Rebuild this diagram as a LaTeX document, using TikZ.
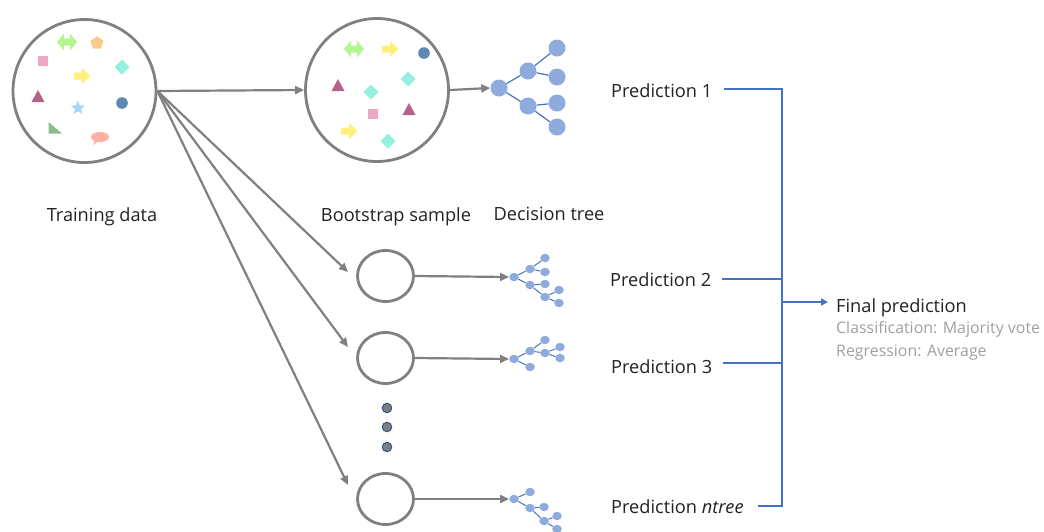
\documentclass[tikz,border=0pt]{standalone}
\usepackage{fontspec}
\setmainfont{Open Sans}
\usetikzlibrary{arrows.meta,shapes.geometric}
\definecolor{lgray}{HTML}{808080}
\definecolor{tblue}{HTML}{8FAADC}
\definecolor{lblue}{HTML}{4472C4}
\definecolor{txt}{HTML}{222222}
\definecolor{gtxt}{HTML}{A0A0A0}
\definecolor{cgreen}{HTML}{B3F58E}
\definecolor{cyellow}{HTML}{FFF07C}
\definecolor{corange}{HTML}{FFC98C}
\definecolor{cpink}{HTML}{EBA8C3}
\definecolor{ccyan}{HTML}{95F0DD}
\definecolor{cmag}{HTML}{B5628A}
\definecolor{cstar}{HTML}{A8D4FF}
\definecolor{cdot}{HTML}{5E88B0}
\definecolor{cgtri}{HTML}{8DBE8A}
\definecolor{csalmon}{HTML}{FFB0A3}
\definecolor{ddot}{HTML}{7F7F7F}
\definecolor{dblue}{HTML}{2F5597}
\tikzset{
  pics/dblarr/.style={code={\fill[cgreen] (-10,0) -- (-3,-8.5) -- (-3,-3.5) -- (3,-3.5) -- (3,-8.5) -- (10,0) -- (3,8.5) -- (3,3.5) -- (-3,3.5) -- (-3,8.5) -- cycle;}},
  pics/rarr/.style={code={\fill[cyellow] (-8,-3.5) -- (0,-3.5) -- (0,-8) -- (8.5,0) -- (0,8) -- (0,3.5) -- (-8,3.5) -- cycle;}},
  pics/pent/.style={code={\fill[corange] (-90:6.8) -- (-18:6.8) -- (54:6.8) -- (126:6.8) -- (198:6.8) -- cycle;}},
  pics/sqr/.style={code={\fill[cpink] (-5,-5) rectangle (5,5);}},
  pics/diam/.style={code={\fill[ccyan] (0,-7.5) -- (7.5,0) -- (0,7.5) -- (-7.5,0) -- cycle;}},
  pics/tri/.style={code={\fill[cmag] (0,-7) -- (6.5,5) -- (-6.5,5) -- cycle;}},
  pics/strr/.style={code={\fill[cstar] (-90:7.5) -- (-54:3.2) -- (-18:7.5) -- (18:3.2) -- (54:7.5) -- (90:3.2) -- (126:7.5) -- (162:3.2) -- (198:7.5) -- (234:3.2) -- cycle;}},
  pics/bdot/.style={code={\fill[cdot] (0,0) circle (5.8);}},
  pics/rtri/.style={code={\fill[cgtri] (-6.5,-6) -- (-6.5,5.5) -- (7,5.5) -- cycle;}},
  pics/bubble/.style={code={\fill[csalmon] (0,0) ellipse (9 and 5); \fill[csalmon] (-5,3) -- (-7,8) -- (-1,4) -- cycle;}},
}
\begin{document}
\begin{tikzpicture}[x=1pt,y=-1pt,
  bigc/.style={circle,draw=lgray,line width=2.8pt,minimum size=143pt,inner sep=0},
  smallc/.style={ellipse,draw=lgray,line width=2.8pt,minimum width=56pt,minimum height=51pt,inner sep=0},
  garrow/.style={draw=lgray,line width=2.2pt,-{Triangle[length=9pt,width=8pt]}},
  tnode/.style={circle,fill=tblue,inner sep=0,minimum size=17pt},
  snode/.style={ellipse,fill=tblue,inner sep=0,minimum width=9.5pt,minimum height=8.5pt},
  tedge/.style={draw=lblue,line width=1.2pt},
  sedge/.style={draw=lblue,line width=1pt},
  lbl/.style={font=\fontsize{18.2}{20}\selectfont,text=txt,inner sep=0},
  glbl/.style={font=\fontsize{15.9}{18}\selectfont,text=gtxt,inner sep=0},
  bline/.style={draw=lblue,line width=1.3pt},
  barrow/.style={draw=lblue,line width=2.4pt,-{Triangle[length=7pt,width=7pt]}},
  vdot/.style={circle,fill=ddot,draw=dblue,line width=1pt,minimum size=9.5pt,inner sep=0},
]
\useasboundingbox (0,0) rectangle (1044,531);

% main circles
\node[bigc] (train) at (84.5,91) {};
\node[bigc] (boot) at (377,90) {};

% shapes in training data
\pic at (67,42) {dblarr};
\pic at (97,43) {pent};
\pic at (43,61) {sqr};
\pic at (122,67) {diam};
\pic at (82,76) {rarr};
\pic at (38,97) {tri};
\pic at (78,108) {strr};
\pic at (122,103) {bdot};
\pic at (55,128) {rtri};
\pic at (100,137) {bubble};

% shapes in bootstrap sample
\pic at (354,49) {dblarr};
\pic at (390,49) {rarr};
\pic at (424,53) {bdot};
\pic at (338,86) {tri};
\pic at (408,79) {diam};
\pic at (371,92) {diam};
\pic at (373,114) {sqr};
\pic at (409,110) {tri};
\pic at (349,131) {rarr};
\pic at (388,141) {diam};

% small bootstrap circles
\node[smallc] (c2) at (385.5,276) {};
\node[smallc] (c3) at (385.5,358) {};
\node[smallc] (c4) at (385.5,499) {};

% vertical dots
\node[vdot] (d1) at (387,408) {};
\node[vdot] (d2) at (387,427) {};
\node[vdot] (d3) at (387,447) {};

% arrow end points
\coordinate (e2) at (348,272);
\coordinate (e3) at (348,347);
\coordinate (e4) at (348,485);
\draw[garrow] (train.east) -- (boot.west);
\draw[garrow] (train.east) -- (e2);
\draw[garrow] (train.east) -- (e3);
\draw[garrow] (train.east) -- (e4);

% big tree
\node[tnode] (r0) at (499,88) {};
\node[tnode] (a1) at (528,71) {};
\node[tnode] (a2) at (528,106) {};
\node[tnode] (l1) at (557,48) {};
\node[tnode] (l2) at (557,77) {};
\node[tnode] (l3) at (557,103) {};
\node[tnode] (l4) at (557,127) {};
\draw[tedge] (r0) -- (a1); \draw[tedge] (r0) -- (a2);
\draw[tedge] (a1) -- (l1); \draw[tedge] (a1) -- (l2);
\draw[tedge] (a2) -- (l3); \draw[tedge] (a2) -- (l4);
\draw[garrow] (boot.east) -- (r0.west);

% tree 2
\node[snode] (s2r) at (514,277) {};
\node[snode] (s2a) at (530,269) {};
\node[snode] (s2b) at (545,258) {};
\node[snode] (s2c) at (545,272) {};
\node[snode] (s2d) at (530,285) {};
\node[snode] (s2e) at (545,284) {};
\node[snode] (s2f) at (545,297) {};
\node[snode] (s2g) at (559,290) {};
\node[snode] (s2h) at (559,303) {};
\draw[sedge] (s2r) -- (s2a); \draw[sedge] (s2r) -- (s2d);
\draw[sedge] (s2a) -- (s2b); \draw[sedge] (s2a) -- (s2c);
\draw[sedge] (s2d) -- (s2e); \draw[sedge] (s2d) -- (s2f);
\draw[sedge] (s2f) -- (s2g); \draw[sedge] (s2f) -- (s2h);
\draw[garrow] (c2.east) -- (s2r.west);

% tree 3
\node[snode] (s3r) at (514,359) {};
\node[snode] (s3a) at (530,351) {};
\node[snode] (s3b) at (545,340) {};
\node[snode] (s3c) at (545,353) {};
\node[snode] (s3d) at (560,347) {};
\node[snode] (s3e) at (560,358) {};
\node[snode] (s3f) at (530,367) {};
\draw[sedge] (s3r) -- (s3a); \draw[sedge] (s3r) -- (s3f);
\draw[sedge] (s3a) -- (s3b); \draw[sedge] (s3a) -- (s3c);
\draw[sedge] (s3c) -- (s3d); \draw[sedge] (s3c) -- (s3e);
\draw[garrow] (c3.east) -- (s3r.west);

% tree 4
\node[snode] (s4r) at (514,499) {};
\node[snode] (s4a) at (530,492) {};
\node[snode] (s4b) at (530,508) {};
\node[snode] (s4c) at (544,507) {};
\node[snode] (s4d) at (544,521) {};
\node[snode] (s4e) at (557,516) {};
\node[snode] (s4f) at (557,529) {};
\draw[sedge] (s4r) -- (s4a); \draw[sedge] (s4r) -- (s4b);
\draw[sedge] (s4b) -- (s4c); \draw[sedge] (s4b) -- (s4d);
\draw[sedge] (s4d) -- (s4e); \draw[sedge] (s4d) -- (s4f);
\draw[garrow] (c4.east) -- (s4r.west);

% labels
\node[lbl,anchor=base] (ltrain) at (102,221) {Training data};
\node[lbl,anchor=base] (lboot) at (396,221) {Bootstrap sample};
\node[lbl,anchor=base] (ltree) at (549,220) {Decision tree};

% predictions
\node[lbl,anchor=base west] (p1) at (611,97) {Prediction 1};
\node[lbl,anchor=base west] (p2) at (610,286) {Prediction 2};
\node[lbl,anchor=base west] (p3) at (611,373) {Prediction 3};
\node[lbl,anchor=base west] (p4) at (611,513) {Prediction \textit{ntree}};

\coordinate (s1) at (724,89);
\coordinate (s2) at (722,279);
\coordinate (s3) at (723,363);
\coordinate (s4) at (758,506);
\coordinate (j1) at (782,89);
\coordinate (j2) at (782,279);
\coordinate (j3) at (782,363);
\coordinate (j4) at (782,506);
\coordinate (jf) at (782,302);
\draw[bline] (s1) -- (j1) -- (j4) -- (s4);
\draw[bline] (s2) -- (j2);
\draw[bline] (s3) -- (j3);

\node[lbl,anchor=base west] (fin) at (836,312) {Final prediction};
\node[glbl,anchor=base west] (cls) at (836,333) {Classification: Majority vote};
\node[glbl,anchor=base west] (reg) at (836,356) {Regression: Average};
\coordinate (fa) at (828,302);
\draw[barrow] (jf) -- (fa);
\end{tikzpicture}
\end{document}
